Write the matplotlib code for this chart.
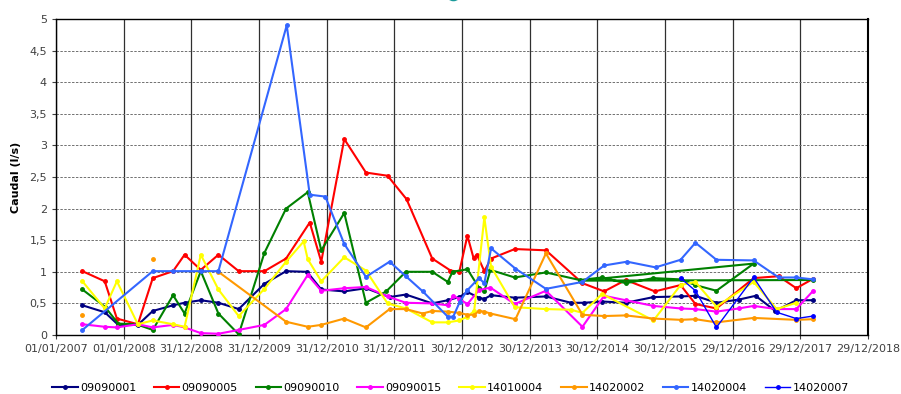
import datetime as dt
import numpy as np
import matplotlib
matplotlib.use("Agg")
import matplotlib.pyplot as plt
from matplotlib.lines import Line2D
from matplotlib.ticker import FuncFormatter, MultipleLocator

# sample dates in decimal years, values in l/s
yr_09090001 = [2007.39, 2007.72, 2007.92, 2008.21, 2008.43, 2008.73, 2008.90, 2009.14, 2009.40, 2009.70,
               2010.08, 2010.40, 2010.71, 2010.92, 2011.26, 2011.58, 2011.93, 2012.17, 2012.56, 2012.79,
               2012.96, 2013.08, 2013.25, 2013.33, 2013.43, 2013.78, 2014.24, 2014.61, 2014.80, 2015.07,
               2015.42, 2015.83, 2016.23, 2016.45, 2016.76, 2017.09, 2017.34, 2017.63, 2017.94, 2018.19]
q_09090001 = [0.47, 0.36, 0.16, 0.16, 0.38, 0.47, 0.51, 0.55, 0.51, 0.41,
              0.81, 1.01, 1.00, 0.72, 0.69, 0.74, 0.60, 0.64, 0.50, 0.55,
              0.60, 0.68, 0.59, 0.57, 0.63, 0.59, 0.61, 0.51, 0.51, 0.53,
              0.51, 0.60, 0.61, 0.62, 0.51, 0.56, 0.62, 0.38, 0.55, 0.55]

yr_09090005 = [2007.39, 2007.72, 2007.90, 2008.21, 2008.43, 2008.73, 2008.90, 2009.14, 2009.40, 2009.70,
               2010.08, 2010.40, 2010.75, 2010.92, 2011.26, 2011.58, 2011.90, 2012.18, 2012.56, 2012.83,
               2012.96, 2013.08, 2013.17, 2013.22, 2013.33, 2013.43, 2013.78, 2014.24, 2014.78, 2015.10,
               2015.42, 2015.85, 2016.23, 2016.45, 2016.76, 2017.31, 2017.68, 2017.94, 2018.19]
q_09090005 = [1.01, 0.85, 0.26, 0.17, 0.90, 1.01, 1.27, 1.03, 1.27, 1.01,
              1.01, 1.21, 1.78, 1.16, 3.10, 2.57, 2.52, 2.15, 1.21, 1.02,
              1.00, 1.57, 1.22, 1.27, 1.01, 1.21, 1.36, 1.34, 0.82, 0.69,
              0.87, 0.69, 0.79, 0.49, 0.42, 0.90, 0.93, 0.74, 0.89]

yr_09090010 = [2007.39, 2007.72, 2007.92, 2008.19, 2008.43, 2008.73, 2008.90, 2009.14, 2009.40, 2009.70,
               2010.08, 2010.40, 2010.72, 2010.92, 2011.26, 2011.58, 2011.88, 2012.17, 2012.56, 2012.79,
               2012.86, 2013.08, 2013.25, 2013.33, 2013.42, 2013.78, 2014.24, 2014.74, 2015.07, 2015.42,
               2015.83, 2016.23, 2016.45, 2016.76, 2017.31, 2014.74, 2018.19]
q_09090010 = [0.72, 0.45, 0.18, 0.17, 0.08, 0.63, 0.34, 1.01, 0.34, 0.01,
              1.30, 2.00, 2.26, 1.34, 1.93, 0.51, 0.69, 1.00, 1.00, 0.84,
              1.00, 1.04, 0.75, 0.69, 1.03, 0.91, 0.99, 0.87, 0.91, 0.82,
              0.90, 0.88, 0.79, 0.70, 1.13, 0.86, 0.87]

yr_09090015 = [2007.39, 2007.72, 2007.90, 2008.21, 2008.43, 2008.73, 2008.90, 2009.14, 2009.40, 2009.70,
               2010.08, 2010.40, 2010.72, 2010.92, 2011.26, 2011.58, 2011.90, 2012.17, 2012.56, 2012.79,
               2012.87, 2012.96, 2013.08, 2013.25, 2013.42, 2013.78, 2014.24, 2014.78, 2015.10, 2015.42,
               2015.83, 2016.23, 2016.45, 2016.76, 2017.09, 2017.31, 2017.65, 2017.94, 2018.19]
q_09090015 = [0.17, 0.13, 0.12, 0.17, 0.12, 0.16, 0.12, 0.03, 0.02, 0.08,
              0.16, 0.41, 0.95, 0.70, 0.74, 0.76, 0.61, 0.51, 0.50, 0.47,
              0.62, 0.57, 0.49, 0.71, 0.75, 0.49, 0.70, 0.13, 0.62, 0.55,
              0.46, 0.42, 0.41, 0.37, 0.42, 0.46, 0.41, 0.41, 0.70]

yr_14010004 = [2007.39, 2007.72, 2007.90, 2008.21, 2008.43, 2008.73, 2008.90, 2009.14, 2009.40, 2009.70,
               2010.08, 2010.40, 2010.66, 2010.72, 2010.92, 2011.26, 2011.58, 2011.90, 2012.17, 2012.56,
               2012.79, 2012.96, 2013.08, 2013.18, 2013.33, 2013.43, 2013.78, 2014.24, 2014.61, 2014.78,
               2015.07, 2015.83, 2016.23, 2016.45, 2016.76, 2017.31, 2017.65, 2017.94]
q_14010004 = [0.85, 0.42, 0.85, 0.17, 0.23, 0.17, 0.13, 1.27, 0.72, 0.30,
              0.73, 1.16, 1.48, 1.20, 0.85, 1.23, 1.02, 0.50, 0.42, 0.20,
              0.20, 0.23, 0.29, 0.38, 1.86, 1.08, 0.44, 0.41, 0.40, 0.35,
              0.65, 0.23, 0.79, 0.84, 0.45, 0.84, 0.41, 0.51]

yr_14020002 = [2007.39, 2007.90, 2008.43, 2008.90, 2009.40, 2010.40, 2010.72, 2010.92, 2011.26, 2011.58,
               2011.93, 2012.17, 2012.42, 2012.56, 2012.79, 2012.96, 2013.08, 2013.18, 2013.25, 2013.33,
               2013.42, 2013.79, 2014.24, 2014.78, 2015.10, 2015.42, 2015.83, 2016.23, 2016.45, 2016.76,
               2017.31, 2017.94, 2018.19]
q_14020002 = [0.31, np.nan, 1.21, np.nan, 1.00, 0.21, 0.13, 0.16, 0.26, 0.12,
              0.41, 0.41, 0.34, 0.38, 0.37, 0.35, 0.32, 0.32, 0.38, 0.37,
              0.34, 0.25, 1.29, 0.32, 0.30, 0.31, 0.26, 0.24, 0.25, 0.20,
              0.27, 0.24, 0.25]

yr_14020004 = [2007.39, 2008.43, 2008.73, 2009.14, 2009.40, 2010.41, 2010.75, 2010.98, 2011.26, 2011.58,
               2011.93, 2012.17, 2012.42, 2012.79, 2012.87, 2012.97, 2013.08, 2013.25, 2013.33, 2013.43,
               2013.79, 2014.24, 2014.78, 2015.10, 2015.44, 2015.86, 2016.23, 2016.45, 2016.76, 2017.31,
               2017.68, 2017.94, 2018.19]
q_14020004 = [0.08, 1.01, 1.01, 1.01, 1.01, 4.90, 2.22, 2.19, 1.44, 0.92,
              1.16, 0.93, 0.69, 0.29, 0.29, 0.53, 0.71, 0.90, 0.82, 1.37,
              1.05, 0.73, 0.84, 1.10, 1.16, 1.07, 1.19, 1.46, 1.19, 1.18,
              0.91, 0.91, 0.88]

yr_14020007 = [2016.23, 2016.45, 2016.76, 2017.31, 2017.65, 2017.94, 2018.19]
q_14020007 = [0.90, 0.70, 0.12, 0.91, 0.36, 0.26, 0.30]

series = [
    ("09090001", yr_09090001, q_09090001, "#000080", 1.5),
    ("09090005", yr_09090005, q_09090005, "#FF0000", 1.5),
    ("09090010", yr_09090010, q_09090010, "#008000", 1.5),
    ("09090015", yr_09090015, q_09090015, "#FF00FF", 1.5),
    ("14010004", yr_14010004, q_14010004, "#FFFF00", 1.5),
    ("14020002", yr_14020002, q_14020002, "#FF9900", 1.5),
    ("14020004", yr_14020004, q_14020004, "#3366FF", 1.5),
    ("14020007", yr_14020007, q_14020007, "#0000FF", 1.0),
]

base = dt.datetime(2007, 1, 1)


def to_dates(years):
    # the chart's date axis steps 365 days per year
    return [base + dt.timedelta(days=(y - 2007) * 365) for y in years]


fig = plt.figure(figsize=(9.01, 3.94), dpi=100)
ax = fig.add_axes([56 / 901, 59 / 394, 812 / 901, 316 / 394])

for name, yrs, vals, color, lw in series:
    ax.plot(to_dates(yrs), vals, color=color, lw=lw, marker="o", ms=2.5,
            label=name, zorder=3)

# axes styling
ticks = [base + dt.timedelta(days=365 * i) for i in range(13)]
ax.set_xlim(ticks[0], ticks[-1])
ax.set_xticks(ticks)
ax.set_xticklabels([t.strftime("%d/%m/%Y") for t in ticks])
ax.set_ylim(0, 5)
ax.yaxis.set_major_locator(MultipleLocator(0.5))
ax.yaxis.set_major_formatter(FuncFormatter(lambda v, p: f"{v:g}".replace(".", ",")))
ax.tick_params(labelsize=8, colors="#404040", length=3)
for lab in ax.get_xticklabels() + ax.get_yticklabels():
    lab.set_color("#404040")

ax.xaxis.grid(True, color="#303030", lw=0.9, ls="-")
ax.yaxis.grid(True, color="#707070", lw=0.7, ls=(0, (2.5, 1.5)))
ax.set_axisbelow(True)
for sp in ax.spines.values():
    sp.set_color("black")
    sp.set_linewidth(1)
ax.spines["right"].set_linewidth(1.5)

ax.set_ylabel("Caudal (l/s)", fontsize=8, fontweight="bold", labelpad=6)

# bit of the title graphic peeking in at the top
fig.add_artist(Line2D([453 / 901], [401 / 394], transform=fig.transFigure, marker="o",
                      ms=9, mfc="none", mec="#1A9A9A", mew=2.2, ls="none", clip_on=False))

fig.legend(loc="center", bbox_to_anchor=(0.5, 0.015), ncol=8, frameon=False,
           fontsize=8, handlelength=2.3, handletextpad=0.2, columnspacing=1.6)

fig.savefig("out.png", dpi=100)
